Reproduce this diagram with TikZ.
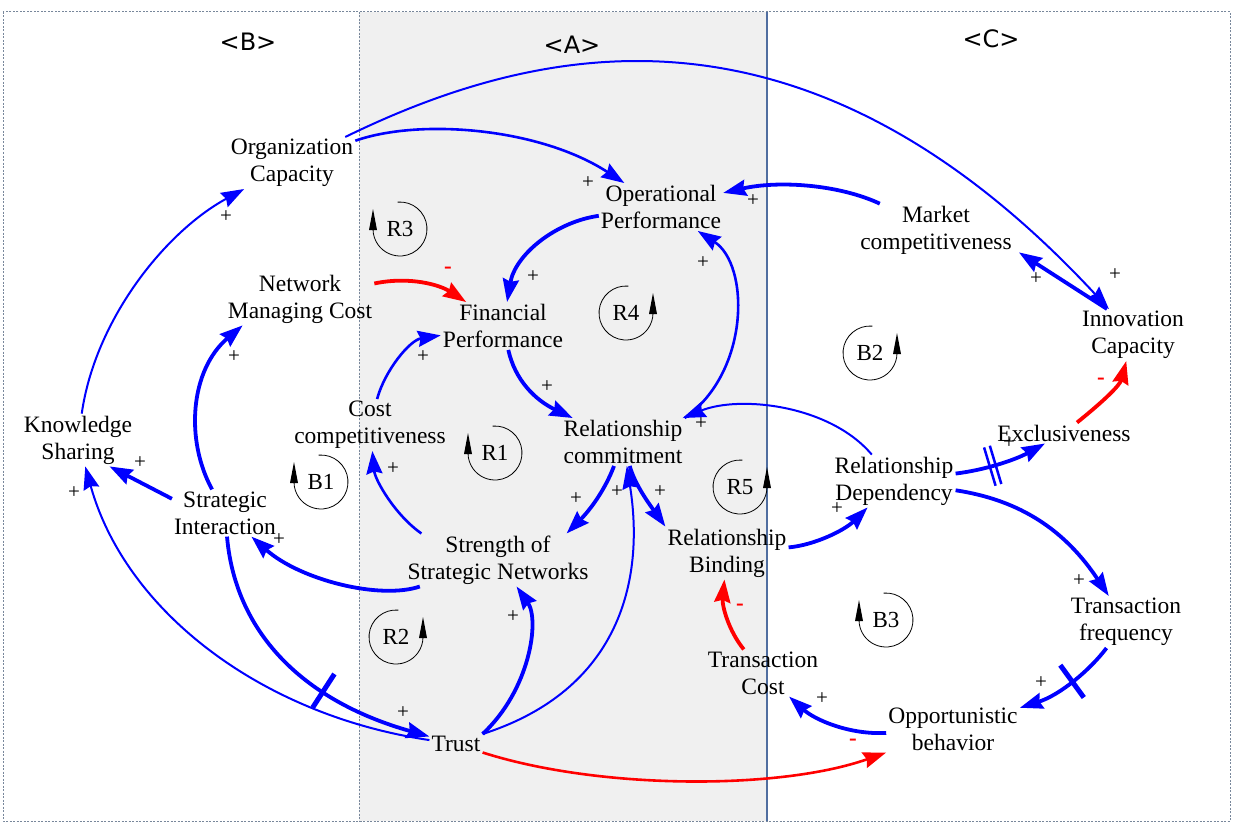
\documentclass[tikz,border=0pt]{standalone}
\usepackage{fontspec}
\setmainfont{Liberation Serif}
\newfontfamily\regfont{DejaVu Sans}
\usetikzlibrary{arrows.meta,decorations.markings}
\definecolor{lblue}{RGB}{0,0,255}
\definecolor{lred}{RGB}{255,0,0}
\definecolor{bandgray}{RGB}{240,240,240}
\definecolor{framegray}{RGB}{120,135,155}
\definecolor{bandedge}{RGB}{80,110,160}
\tikzset{
 var/.style={align=center, inner sep=2pt, font=\fontsize{23.5}{27}\selectfont},
 pl/.style={inner sep=0pt, font=\fontsize{21}{21}\selectfont},
 mn/.style={inner sep=0pt, text=lred, font=\fontsize{23}{23}\selectfont\bfseries},
 looplab/.style={inner sep=0pt, font=\fontsize{23}{23}\selectfont},
 reglab/.style={inner sep=0pt, font=\regfont\fontsize{24}{24}\selectfont},
 loopc/.style={draw=black, line width=0.8pt},
 tipv/.style={-{Stealth[length=23pt,width=16pt,inset=2.5pt]}},
 lkthin/.style={tipv, draw=lblue, line width=2pt},
 lkmid/.style={tipv, draw=lblue, line width=2.6pt},
 lkthick/.style={tipv, draw=lblue, line width=3.8pt},
 ngmid/.style={tipv, draw=lred, line width=2.6pt},
 ngthick/.style={tipv, draw=lred, line width=3.8pt},
 hatchone/.style={postaction={decorate,decoration={markings,mark=at position #1 with {\draw[lblue,line width=5pt,arrows=-] (0pt,-20pt) -- (0pt,20pt);}}}},
 hatchtwo/.style={postaction={decorate,decoration={markings,mark=at position #1 with {\draw[lblue,line width=2.5pt,arrows=-] (-3pt,-20pt) -- (-3pt,20pt) (3pt,-20pt) -- (3pt,20pt);}}}},
}
\newcommand\loopleft[4]{%
 \node[looplab] (#1) at (#2,#3) {#4};
 \draw[loopc] (#2,#3) ++(-95:27) arc[start angle=-95,end angle=180,radius=27];
 \fill[black] (#2-31,#3+1) -- (#2-27,#3-20) -- (#2-23,#3+1) -- cycle;}
\newcommand\loopright[4]{%
 \node[looplab] (#1) at (#2,#3) {#4};
 \draw[loopc] (#2,#3) ++(-85:27) arc[start angle=-85,end angle=-360,radius=27];
 \fill[black] (#2+23,#3+1) -- (#2+27,#3-20) -- (#2+31,#3+1) -- cycle;}
\begin{document}
\begin{tikzpicture}[x=1pt,y=-1pt]
\useasboundingbox (0,0) rectangle (1250,824);
\fill[white] (0,0) rectangle (1250,824);
\fill[bandgray] (359,12) rectangle (767,821);
\draw[framegray, line width=1pt, dash pattern=on 2pt off 1.5pt] (3,12) rectangle (1230,821);
\draw[framegray, line width=1pt, dash pattern=on 2pt off 1.5pt] (359,12) -- (359,821);
\draw[bandedge, line width=1.2pt] (767,12) -- (767,821);

\node[reglab] (labB) at (248,42) {<B>};
\node[reglab] (labA) at (572,45) {<A>};
\node[reglab] (labC) at (991,39) {<C>};

\node[var] (OrgCap) at (292,163) {Organization\\Capacity};
\node[var] (OpPerf) at (661,207) {Operational\\Performance};
\node[var] (MarketComp) at (936,230) {Market\\competitiveness};
\node[var] (InnovCap) at (1133,335) {Innovation\\Capacity};
\node[var] (NetCost) at (300,299) {Network\\Managing Cost};
\node[var] (FinPerf) at (503,326) {Financial\\Performance};
\node[var] (KnowShar) at (78,440) {Knowledge\\Sharing};
\node[var] (CostComp) at (370,425) {Cost\\competitiveness};
\node[var] (RelComm) at (623,442) {Relationship\\commitment};
\node[var] (RelDep) at (894,481) {Relationship\\Dependency};
\node[var] (Excl) at (1064,433) {Exclusiveness};
\node[var] (StratInt) at (225,513) {Strategic\\Interaction};
\node[var] (StrNet) at (498,560) {Strength of\\Strategic Networks};
\node[var] (RelBind) at (727,553) {Relationship\\Binding};
\node[var] (TransFreq) at (1126,622) {Transaction\\frequency};
\node[var] (TransCost) at (763,673) {Transaction\\Cost};
\node[var] (OppBeh) at (953,729) {Opportunistic\\behavior};
\node[var] (Trust) at (456,744) {Trust};

\loopleft{L3}{400}{229}{R3}
\loopright{L4}{626}{313}{R4}
\loopleft{L1}{495}{453}{R1}
\loopleft{LB1}{321}{482}{B1}
\loopright{L2}{396}{637}{R2}
\loopright{L5}{740}{487}{R5}
\loopright{LB2}{870}{353}{B2}
\loopleft{LB3}{886}{620}{B3}

\draw[lkthin] (KnowShar) .. controls (95,320) and (165,232) .. (OrgCap);
\draw[lkmid] (OrgCap) .. controls (420,118) and (540,128) .. (OpPerf);
\draw[lkthin] (OrgCap) .. controls (546,39) and (810,-13) .. (InnovCap);
\draw[lkthick] (MarketComp) .. controls (840,185) and (780,180) .. (OpPerf);
\draw[lkthick] (OpPerf) .. controls (555,222) and (515,255) .. (FinPerf);
\draw[lkmid] (RelComm.north east) .. controls (750,372) and (750,265) .. (OpPerf);
\draw[lkthick] (FinPerf) .. controls (515,380) and (535,400) .. (RelComm);
\draw[ngthick] (NetCost) .. controls (410,276) and (440,285) .. (FinPerf);
\draw[lkmid] (CostComp) .. controls (385,370) and (410,340) .. (FinPerf);
\draw[lkmid] ([xshift=16pt]StrNet.north west) .. controls (395,515) and (375,480) .. (CostComp);
\draw[lkthick] (RelComm) .. controls (605,490) and (590,510) .. ([xshift=-24pt]StrNet.north east);
\draw[lkthick] (RelComm) .. controls (635,485) and (650,505) .. (RelBind.north west);
\draw[lkthin] (Trust.north east) .. controls (620,690) and (645,580) .. (RelComm);
\draw[lkthick] (Trust.north east) .. controls (530,690) and (540,620) .. (StrNet);
\draw[lkthick] (RelBind) .. controls (815,545) and (845,530) .. (RelDep);
\draw[ngthick] (TransCost) .. controls (728,630) and (722,605) .. (RelBind);
\draw[lkthick, hatchtwo=0.4] (RelDep) .. controls (985,470) and (1015,460) .. (Excl);
\draw[ngthick] (Excl) .. controls (1105,400) and (1120,385) .. (InnovCap);
\draw[lkthick] ([xshift=-26pt]InnovCap.north) -- ([xshift=5pt,yshift=4pt]MarketComp.south east);
\draw[lkthick] (RelDep) .. controls (1020,500) and (1065,530) .. (TransFreq);
\draw[lkthick, hatchone=0.45] (TransFreq) .. controls (1090,670) and (1060,695) .. (OppBeh);
\draw[lkthick] (OppBeh) .. controls (850,735) and (815,720) .. (TransCost);
\draw[ngmid] (Trust) .. controls (600,790) and (780,790) .. (OppBeh);
\draw[lkthick] (StrNet) .. controls (380,600) and (300,580) .. (StratInt);
\draw[lkthick] (StratInt.165) -- (KnowShar.320);
\draw[lkthick] (StratInt) .. controls (185,440) and (190,370) .. ([xshift=17pt]NetCost.south west);
\draw[lkthick, hatchone=0.62] (StratInt) .. controls (235,630) and (300,700) .. (Trust);
\draw[lkthin] (Trust) .. controls (260,715) and (125,610) .. (KnowShar);
\draw[lkthin] (RelDep) .. controls (830,405) and (740,395) .. (RelComm);

\node[pl] (p1) at (226,217) {+};
\node[pl] (p2) at (588,183) {+};
\node[pl] (p3) at (753,201) {+};
\node[pl] (p4) at (1115,275) {+};
\node[pl] (p5) at (1036,279) {+};
\node[pl] (p6) at (533,277) {+};
\node[pl] (p7) at (703,263) {+};
\node[mn] (m1) at (448,270) {-};
\node[pl] (p8) at (234,357) {+};
\node[pl] (p9) at (423,357) {+};
\node[pl] (p10) at (547,387) {+};
\node[pl] (p11) at (701,424) {+};
\node[pl] (p12) at (140,463) {+};
\node[pl] (p13) at (74,493) {+};
\node[pl] (p14) at (393,469) {+};
\node[pl] (p15) at (576,499) {+};
\node[pl] (p16) at (617,492) {+};
\node[pl] (p17) at (660,492) {+};
\node[pl] (p18) at (279,540) {+};
\node[pl] (p19) at (837,509) {+};
\node[pl] (p20) at (1009,443) {+};
\node[mn] (m2) at (1101,381) {-};
\node[mn] (m3) at (740,607) {-};
\node[pl] (p21) at (513,617) {+};
\node[pl] (p22) at (403,713) {+};
\node[pl] (p23) at (1079,581) {+};
\node[pl] (p24) at (1041,683) {+};
\node[pl] (p25) at (822,699) {+};
\node[mn] (m4) at (853,742) {-};
\end{tikzpicture}
\end{document}
